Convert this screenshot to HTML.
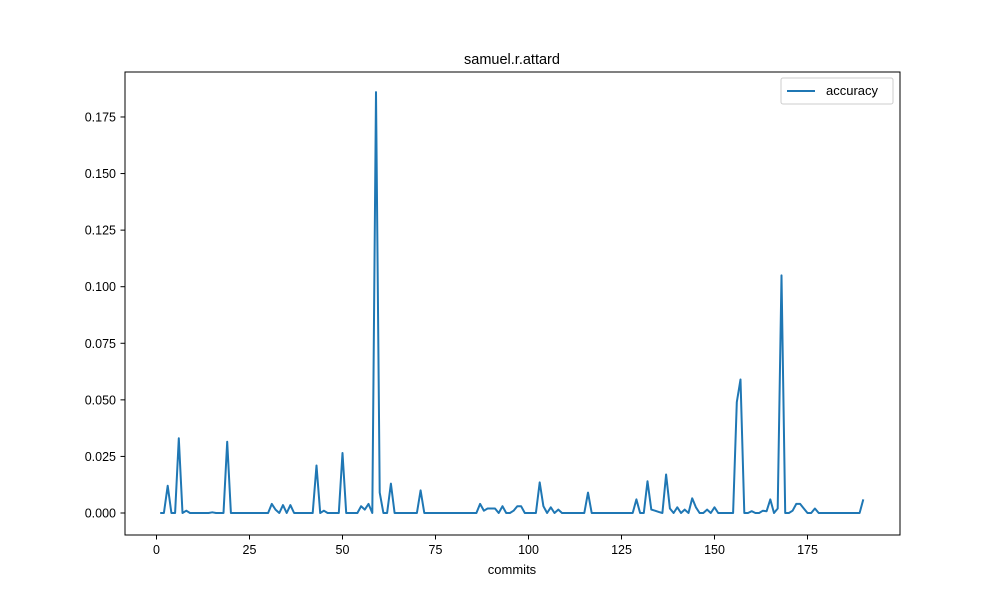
<!DOCTYPE html>
<html><head><meta charset="utf-8"><style>
body{margin:0;background:#fff;font-family:"Liberation Sans","DejaVu Sans",sans-serif;}
svg text{font-family:"Liberation Sans","DejaVu Sans",sans-serif;}
</style></head><body>
<svg id="chart" width="1000" height="600" xmlns="http://www.w3.org/2000/svg">
<rect width="1000" height="600" fill="#fff"/>
<text x="512" y="64" font-size="14.5" text-anchor="middle">samuel.r.attard</text>
<g id="ticks"></g>
<path id="series" fill="none" stroke="#1f77b4" stroke-width="2" stroke-linejoin="round"/>
<rect x="125" y="72" width="775" height="463" fill="none" stroke="#000" stroke-width="1"/>
<text x="512" y="574" font-size="13" text-anchor="middle">commits</text>
<g>
<rect x="781" y="78" width="112" height="26" rx="2" fill="#fff" stroke="#ccc"/>
<line x1="787" y1="91" x2="815" y2="91" stroke="#1f77b4" stroke-width="2"/>
<text x="826" y="95" font-size="13">accuracy</text>
</g>
</svg>
<script>
const xTicks=[0,25,50,75,100,125,150,175];
const yTicks=[0,0.025,0.05,0.075,0.1,0.125,0.15,0.175];
const yTickLabels=["0.000","0.025","0.050","0.075","0.100","0.125","0.150","0.175"];
const nonZero={3:0.012,6:0.033,8:0.001,15:0.0003,19:0.0315,31:0.004,32:0.0015,34:0.0035,36:0.0035,43:0.021,45:0.001,50:0.0265,55:0.003,56:0.0015,57:0.004,59:0.186,60:0.009,63:0.013,71:0.010,87:0.004,88:0.001,89:0.002,90:0.002,91:0.002,93:0.003,96:0.001,97:0.003,98:0.003,103:0.0135,104:0.003,106:0.0025,108:0.0015,116:0.009,129:0.006,132:0.014,133:0.0015,134:0.001,135:0.0005,137:0.017,138:0.002,140:0.0025,142:0.0015,144:0.0065,145:0.0025,148:0.0015,150:0.0025,156:0.049,157:0.059,160:0.0008,163:0.001,164:0.0008,165:0.006,167:0.002,168:0.105,171:0.001,172:0.004,173:0.004,174:0.002,177:0.002,190:0.006};
const commits=[];const accuracy=[];
for(let i=1;i<=190;i++){commits.push(i);accuracy.push(nonZero[i]||0);}
const X=v=>156.5+v*3.72;
const Y=v=>513-v*2263;
const NS="http://www.w3.org/2000/svg";
const g=document.getElementById('ticks');
function mk(t,a){const e=document.createElementNS(NS,t);for(const k in a)e.setAttribute(k,a[k]);g.appendChild(e);return e;}
xTicks.forEach(v=>{
 const l=mk('line',{x1:X(v),x2:X(v),y1:535,y2:539.5,stroke:'#000'});
 
 
 const t=mk('text',{x:X(v),y:554,'font-size':12.5,'text-anchor':'middle'});t.textContent=v;
 
 
});
yTicks.forEach((v,i)=>{
 const l=mk('line',{x1:120.5,x2:125,y1:Y(v),y2:Y(v),stroke:'#000'});
 
 
 const t=mk('text',{x:116,y:Y(v)+4.5,'font-size':12.5,'text-anchor':'end'});t.textContent=yTickLabels[i];
 
 
});
document.getElementById('series').setAttribute('d',commits.map((c,i)=>(i?'L':'M')+X(c).toFixed(1)+','+Y(accuracy[i]).toFixed(1)).join(''));
</script>
</body></html>
